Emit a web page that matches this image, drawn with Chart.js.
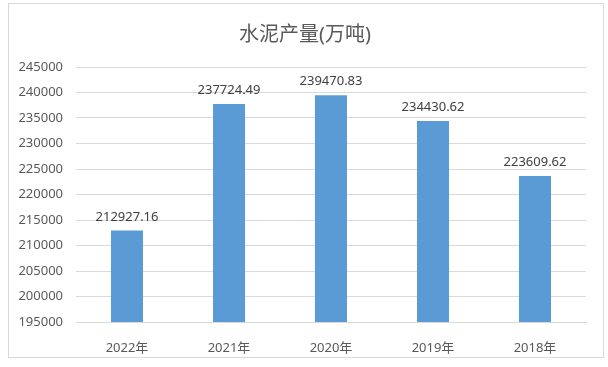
<!DOCTYPE html>
<html>
<head>
<meta charset="utf-8">
<script src="https://cdn.jsdelivr.net/npm/chart.js@4"></script>
<style>
  html, body { margin: 0; padding: 0; background: #fff; }
  #wrap { width: 608px; height: 367px; position: relative; }
</style>
</head>
<body>
<div id="wrap"><canvas id="cementChart" width="608" height="367"></canvas></div>
<script>
const years = ["2022年", "2021年", "2020年", "2019年", "2018年"];
const output = [212927.16, 237724.49, 239470.83, 234430.62, 223609.62];
const titleText = "水泥产量(万吨)";
const yMin = 195000, yMax = 245000, yStep = 5000;

const fontFamily = "'Noto Sans', 'Noto Sans CJK SC', sans-serif";

// frame + title + value labels, drawn by hand
const decorPlugin = {
  id: "decor",
  beforeDraw(chart) {
    const ctx = chart.ctx;
    ctx.save();
    ctx.fillStyle = "#ffffff";
    ctx.fillRect(0, 0, chart.width, chart.height);
    ctx.strokeStyle = "#d9d9d9";
    ctx.lineWidth = 1;
    ctx.strokeRect(8.5, 3.5, 595, 354);
    ctx.fillStyle = "#595959";
    ctx.font = "20px " + fontFamily;
    ctx.textAlign = "center";
    ctx.textBaseline = "middle";
    ctx.fillText(titleText, 305, 35);
    ctx.restore();
  },
  afterDatasetsDraw(chart) {
    const ctx = chart.ctx;
    const meta = chart.getDatasetMeta(0);
    ctx.save();
    ctx.fillStyle = "#404040";
    ctx.font = "13px " + fontFamily;
    ctx.textAlign = "center";
    ctx.textBaseline = "bottom";
    meta.data.forEach((bar, i) => {
      ctx.fillText(output[i].toFixed(2), bar.x, bar.y - 7);
    });
    ctx.restore();
  }
};

new Chart(document.getElementById("cementChart").getContext("2d"), {
  type: "bar",
  data: {
    labels: years,
    datasets: [{
      label: "水泥产量",
      data: output,
      backgroundColor: "#5b9bd5",
      categoryPercentage: 1,
      barPercentage: 0.314
    }]
  },
  options: {
    responsive: false,
    animation: false,
    layout: { padding: { left: 8, right: 22, top: 67, bottom: 0 } },
    plugins: {
      legend: { display: false },
      title: { display: false },
      tooltip: { enabled: false }
    },
    scales: {
      x: {
        grid: { display: false },
        border: { color: "#d9d9d9" },
        ticks: { color: "#595959", font: { family: fontFamily, size: 13 }, padding: 10 },
        afterFit(scale) { scale.height = 45; }
      },
      y: {
        min: yMin,
        max: yMax,
        grid: { color: "#d9d9d9", drawTicks: false },
        border: { display: false },
        ticks: {
          stepSize: yStep,
          color: "#595959",
          font: { family: fontFamily, size: 13 },
          padding: 13,
          callback: v => String(v)
        },
        afterFit(scale) { scale.width = 68; }
      }
    }
  },
  plugins: [decorPlugin]
});
</script>
</body>
</html>
